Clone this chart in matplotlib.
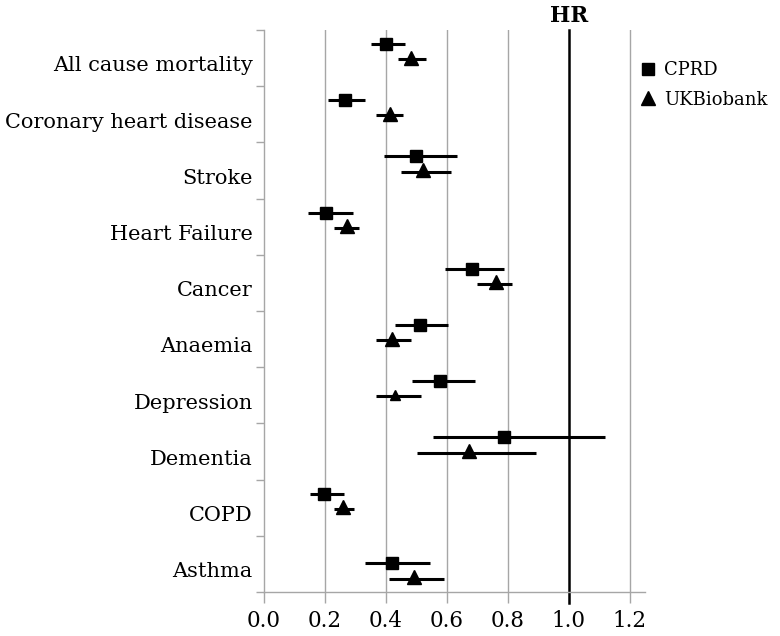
import matplotlib
matplotlib.use("Agg")
import matplotlib.pyplot as plt
from matplotlib.lines import Line2D
import numpy as np

categories = ["All cause mortality", "Coronary heart disease", "Stroke", "Heart Failure",
              "Cancer", "Anaemia", "Depression", "Dementia", "COPD", "Asthma"]

cprd_hr = [0.40, 0.265, 0.50, 0.203, 0.684, 0.511, 0.576, 0.789, 0.198, 0.419]
cprd_lo = [0.35, 0.209, 0.395, 0.145, 0.594, 0.430, 0.485, 0.556, 0.150, 0.331]
cprd_hi = [0.464, 0.332, 0.632, 0.291, 0.789, 0.605, 0.691, 1.119, 0.264, 0.543]

ukb_hr = [0.482, 0.413, 0.523, 0.272, 0.760, 0.420, 0.431, 0.672, 0.260, 0.492]
ukb_lo = [0.438, 0.369, 0.449, 0.229, 0.699, 0.369, 0.369, 0.501, 0.231, 0.410]
ukb_hi = [0.533, 0.455, 0.615, 0.313, 0.814, 0.482, 0.514, 0.894, 0.294, 0.592]

xticks = [0.0, 0.2, 0.4, 0.6, 0.8, 1.0, 1.2]

plt.rcParams['font.family'] = ['DejaVu Serif']

fig = plt.figure(figsize=(7.8, 6.36), dpi=100)
ax = fig.add_axes([264/780, 1-592/636, (645-264)/780, (592-30)/636])

n = len(categories)
idx = np.arange(n)
# position offsets inside each band (last row sits lower, as in the original)
row_shift = np.array([0.0]*(n-1) + [0.24])
y_sq = idx + 0.25 + row_shift
y_tr = idx + 0.52 + row_shift

gray = '#a6a6a6'
for xv in xticks:
    if xv == 0.0 or xv == 1.0:
        continue
    ax.axvline(xv, color=gray, lw=1.0, zorder=1)
ax.axvline(1.0, ymin=-0.02, ymax=1.0, color='black', lw=1.8, zorder=2, clip_on=False)

cprd_hr = np.array(cprd_hr); cprd_lo = np.array(cprd_lo); cprd_hi = np.array(cprd_hi)
ukb_hr = np.array(ukb_hr); ukb_lo = np.array(ukb_lo); ukb_hi = np.array(ukb_hi)

ax.hlines(y_sq, cprd_lo, cprd_hi, color='black', lw=2.2, zorder=3)
ax.hlines(y_tr, ukb_lo, ukb_hi, color='black', lw=2.2, zorder=3)
ax.plot(cprd_hr, y_sq, 's', color='black', ms=8.5, zorder=4, linestyle='none')
tri_sizes = np.array([9.5]*n)
tri_sizes[6] = 6.5
for xv, yv, s in zip(ukb_hr, y_tr, tri_sizes):
    ax.plot(xv, yv - 0.03, '^', color='black', ms=s, zorder=4)

ax.set_xlim(0, 1.25)
ax.set_ylim(n, 0)
ax.set_xticks(xticks)
ax.set_xticklabels([f"{v:.1f}" for v in xticks], fontsize=15.5)
ax.set_yticks(np.arange(n+1))
ax.set_yticklabels([])
ax.tick_params(axis='x', length=8, color=gray, pad=5, width=1)
ax.tick_params(axis='y', length=6, color=gray, width=1)
for s in ['top', 'right']:
    ax.spines[s].set_visible(False)
for s in ['left', 'bottom']:
    ax.spines[s].set_color(gray)
    ax.spines[s].set_linewidth(1)

for i, c in enumerate(categories):
    ax.text(-0.03, i + 0.64, c, transform=ax.get_yaxis_transform(), ha='right',
            va='center', fontsize=15)

ax.text(1.0, 1.006, "HR", transform=ax.get_xaxis_transform(),
        ha='center', va='bottom', fontsize=15.5, fontweight='bold')

handles = [Line2D([], [], marker='s', color='black', linestyle='none', ms=9),
           Line2D([], [], marker='^', color='black', linestyle='none', ms=10)]
ax.legend(handles, ["CPRD", "UKBiobank"], loc='upper left', bbox_to_anchor=(0.965, 0.957),
          frameon=False, fontsize=13, handletextpad=0.4, handlelength=1.0,
          labelspacing=0.62, borderaxespad=0.0)

fig.savefig("out.png", dpi=100)
